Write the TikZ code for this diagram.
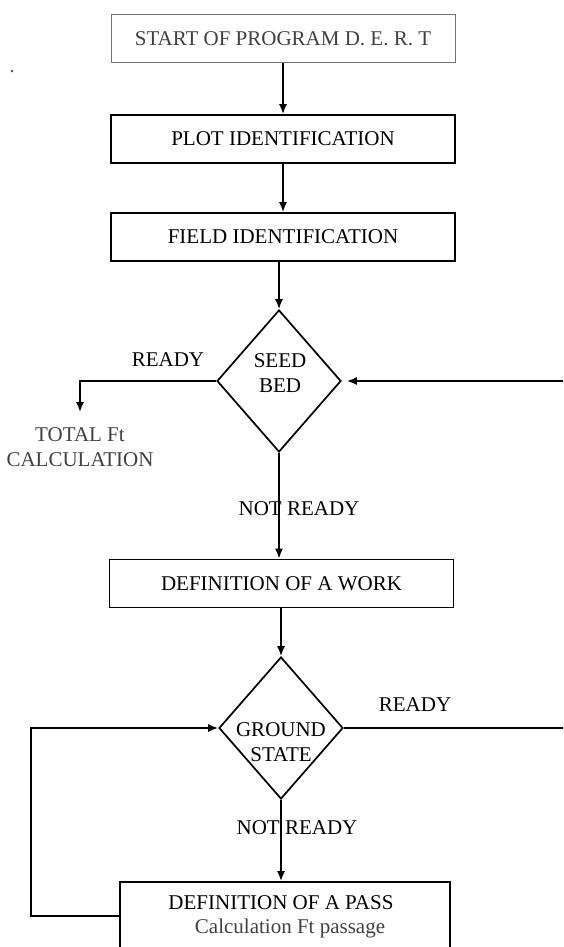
\documentclass[tikz,border=0pt]{standalone}
\usepackage{fontspec}
\setmainfont{Liberation Serif}
\usetikzlibrary{shapes.geometric,arrows.meta}

\begin{document}
\begin{tikzpicture}[x=0.5pt,y=-0.5pt,line width=0.85pt,
        font=\fontsize{10.5}{12.5}\selectfont,
        arr/.style={-{Latex[length=5pt,width=4pt]}},
        txt/.style={align=center,inner sep=1pt}]
    \clip (0,0) rectangle (563,947);
    \begin{scope}[every node/.style={rectangle,draw,minimum width=172pt,
                    minimum height=24pt}]
        \node (S) at (283,39) [draw=black!55,line width=0.5pt,text=black!75] {START OF PROGRAM D. E. R. T};
        \node (P) at (283,139) {PLOT IDENTIFICATION};
        \node (F) at (283,237) {FIELD IDENTIFICATION};
        \node (W) at (281.5,583.5) {DEFINITION OF A WORK};
        \node (X) at (285,937) [minimum width=165pt,minimum height=55pt] {};
    \end{scope}
    \begin{scope}[every node/.style={diamond,draw,inner sep=0pt,
                    minimum width=62pt,minimum height=71pt}]
        \node (SB) at (279,381) {};
        \node (GS) at (281,728) {};
    \end{scope}

    \node (SBt) at (280,373) [txt] {SEED\\BED};
    \node (GSt) at (281,742) [txt] {GROUND\\STATE};
    \node (Xa) at (281,903) [txt] {DEFINITION OF A PASS};
    \node (Xb) at (290,928) [txt,text=black!75] {Calculation Ft passage};
    \node (T) at (80,447.5) [align=center,inner xsep=1pt,inner ysep=7.5pt,text=black!75] {TOTAL Ft\\CALCULATION};
    \node (r1) at (168,360) [txt] {READY};
    \node (n1) at (299,509) [txt] {NOT READY};
    \node (r2) at (415,705) [txt] {READY};
    \node (n2) at (297,828) [txt] {NOT READY};
    \node (dot) at (12,71) [circle,fill=black!70,inner sep=0.5pt] {};

    \coordinate (Rin) at (563,381);
    \coordinate (Rout) at (563,728);
    \coordinate (L) at (31,916);

    \draw[arr] (S) -- (P);
    \draw[arr] (P) -- (F);
    \draw[arr] (SB.north |- F.south) -- (SB.north);
    \draw[arr] (SB.west) -| (T.north);
    \draw[arr,shorten >=2.5pt] (Rin) -- (SB.east);
    \draw[arr] (SB.south) -- (SB.south |- W.north);
    \draw[arr] (GS.north |- W.south) -- (GS.north);
    \draw (GS.east) -- (Rout);
    \draw[arr] (GS.south) -- (GS.south |- X.north);
    \draw[arr] (X.west |- L) -- (L) |- (GS.west);
\end{tikzpicture}
\end{document}
